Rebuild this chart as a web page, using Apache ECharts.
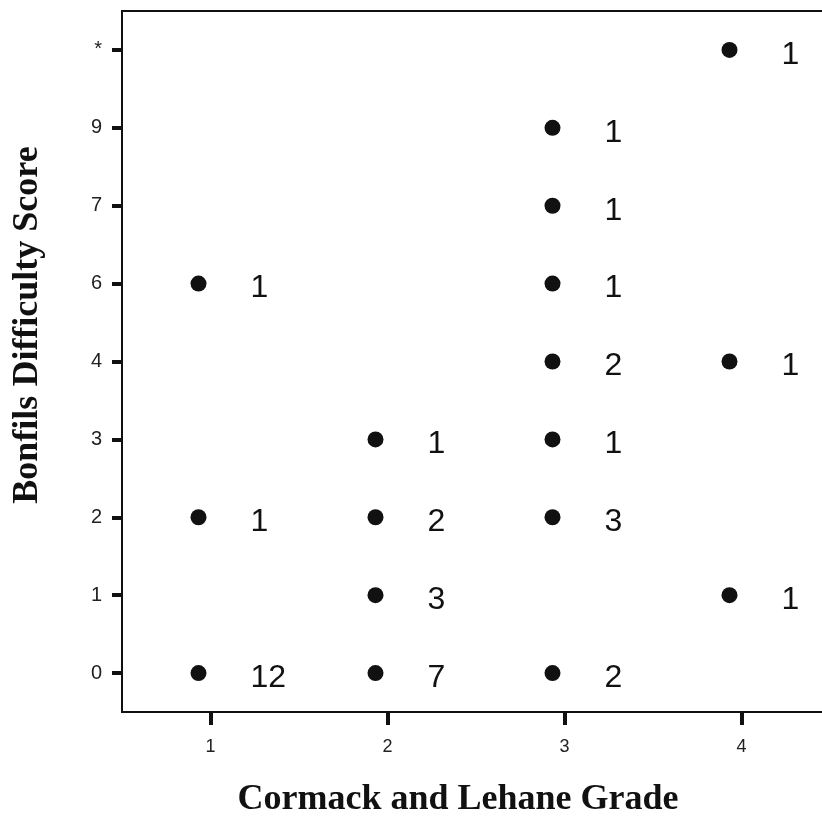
<!DOCTYPE html>
<html>
<head>
<meta charset="utf-8">
<script src="https://cdn.jsdelivr.net/npm/echarts@6/dist/echarts.min.js"></script>
<style>
html,body{margin:0;padding:0;background:#fff;overflow:hidden;}
#chart{width:834px;height:821px;}
</style>
</head>
<body>
<div id="chart"></div>
<script>
// Data
var gradeCategories = ['1', '2', '3', '4'];
var scoreCategories = ['0', '1', '2', '3', '4', '6', '7', '9', '*'];
var pointGrades = ['1', '1', '1', '2', '2', '2', '2', '3', '3', '3', '3', '3', '3', '3', '4', '4', '4'];
var pointScores = ['6', '2', '0', '3', '2', '1', '0', '9', '7', '6', '4', '3', '2', '0', '*', '4', '1'];
var pointCounts = [1, 1, 12, 1, 2, 3, 7, 1, 1, 1, 2, 1, 3, 2, 1, 1, 1];
var xTitle = 'Cormack and Lehane Grade';
var yTitle = 'Bonfils Difficulty Score';

var seriesData = pointGrades.map(function (g, i) {
  return { value: [g, pointScores[i]], count: pointCounts[i] };
});

var chart = echarts.init(document.getElementById('chart'), null, { renderer: 'canvas' });
chart.setOption({
  backgroundColor: '#ffffff',
  animation: false,
  grid: {
    left: 122, top: 11, width: 708, height: 701,
    show: true, borderColor: '#111', borderWidth: 2, backgroundColor: 'transparent'
  },
  xAxis: {
    type: 'category',
    data: gradeCategories,
    boundaryGap: true,
    axisLine: { show: true, lineStyle: { color: '#111', width: 2 } },
    axisTick: { show: true, alignWithLabel: true, length: 13, lineStyle: { color: '#111', width: 4 } },
    axisLabel: { color: '#222', fontFamily: 'Liberation Sans, Arial, sans-serif', fontSize: 18, margin: 26 },
    splitLine: { show: false }
  },
  yAxis: {
    type: 'category',
    data: scoreCategories,
    boundaryGap: true,
    axisLine: { show: true, lineStyle: { color: '#111', width: 2 } },
    axisTick: { show: true, alignWithLabel: true, length: 10, lineStyle: { color: '#111', width: 4 } },
    axisLabel: { color: '#222', fontFamily: 'Liberation Sans, Arial, sans-serif', fontSize: 20, margin: 20 },
    splitLine: { show: false }
  },
  series: [{
    type: 'scatter',
    data: seriesData,
    symbol: 'circle',
    symbolSize: 16,
    symbolOffset: [-12, 0],
    itemStyle: { color: '#111', opacity: 1 },
    emphasis: { disabled: true },
    label: {
      show: true,
      position: 'right',
      distance: 44,
      offset: [0, 5],
      opacity: 1,
      formatter: function (p) { return String(p.data.count); },
      color: '#111',
      fontFamily: 'Liberation Sans, Arial, sans-serif',
      fontSize: 32
    }
  }],
  graphic: [
    {
      type: 'text', x: 28, y: 325, rotation: Math.PI / 2,
      style: {
        text: yTitle, fill: '#111', align: 'center', verticalAlign: 'middle',
        font: 'bold 36px "Liberation Serif", "Times New Roman", serif'
      }
    },
    {
      type: 'text', x: 458, y: 800,
      style: {
        text: xTitle, fill: '#111', align: 'center', verticalAlign: 'middle',
        font: 'bold 36px "Liberation Serif", "Times New Roman", serif'
      }
    }
  ]
});
</script>
</body>
</html>
